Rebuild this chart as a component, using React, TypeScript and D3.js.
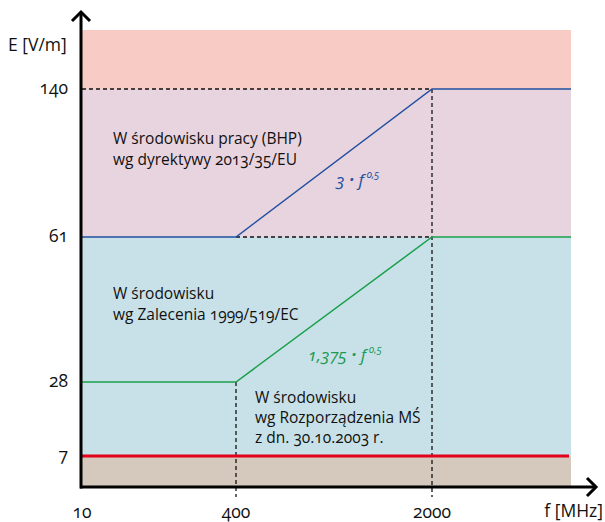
import React from "react";
import * as d3 from "d3";

const freqTicks = [10, 400, 2000];
const fieldTicks = [7, 28, 61, 140];
const freqDomain = [10, 400, 2000, 3000];
const fieldDomain = [0, 7, 28, 61, 140, 175];

const bhpLimit = [
  { f: 10, e: 61 },
  { f: 400, e: 61 },
  { f: 2000, e: 140 },
  { f: 3000, e: 140 },
];
const publicLimit = [
  { f: 10, e: 28 },
  { f: 400, e: 28 },
  { f: 2000, e: 61 },
  { f: 3000, e: 61 },
];
const polandLimit = 7;

const bands = [
  { from: 140, to: 175, color: "#f8cbc5" },
  { from: 61, to: 140, color: "#e8d4df" },
  { from: 7, to: 61, color: "#c8e1e8" },
  { from: 0, to: 7, color: "#d5c9bd" },
];

const FONT = "'Open Sans', 'Noto Sans', sans-serif";

export default function App() {
  const x = d3.scaleLinear().domain(freqDomain).range([82, 236, 432, 571]);
  const y = d3.scaleLinear().domain(fieldDomain).range([487, 456, 382, 237, 89, 30]);
  const line = d3
    .line<{ f: number; e: number }>()
    .x((d) => x(d.f))
    .y((d) => y(d.e));

  const x0 = x(freqDomain[0]);
  const x1 = x(freqDomain[freqDomain.length - 1]);
  const textStyle: React.CSSProperties = {
    fontFamily: FONT,
    fontVariantNumeric: "oldstyle-nums",
    fontFeatureSettings: "'onum'",
  };

  return (
    <svg
      width={605}
      height={522}
      style={{ position: "absolute", left: 0, top: 0, background: "#fff" }}
    >
      {bands.map((b, i) => (
        <rect
          key={i}
          x={x0}
          y={y(b.to)}
          width={x1 - x0}
          height={y(b.from) - y(b.to)}
          fill={b.color}
        />
      ))}
      {/* dashed guides */}
      <g stroke="#111" strokeWidth={1.3} strokeDasharray="4,3" fill="none">
        <line x1={x0} x2={x(2000)} y1={y(140)} y2={y(140)} />
        <line x1={x(400)} x2={x(2000)} y1={y(61)} y2={y(61)} />
        <line x1={x(400)} x2={x(400)} y1={y(28)} y2={y(0) + 10} />
        <line x1={x(2000)} x2={x(2000)} y1={y(140)} y2={y(0) + 10} />
      </g>
      <path d={line(bhpLimit) || ""} fill="none" stroke="#2150a0" strokeWidth={1.5} />
      <path d={line(publicLimit) || ""} fill="none" stroke="#1aa04a" strokeWidth={1.5} />
      <line
        x1={x0}
        x2={x1 - 2}
        y1={y(polandLimit)}
        y2={y(polandLimit)}
        stroke="#e2001a"
        strokeWidth={3}
      />
      {/* axes */}
      <g stroke="#000" strokeWidth={3} fill="none" strokeLinecap="butt">
        <line x1={81} x2={81} y1={y(0) + 1.5} y2={12} />
        <line x1={80} x2={596} y1={y(0)} y2={y(0)} />
        <polyline points="72,21 81,12 90,21" strokeLinejoin="miter" />
        <polyline points="587,478 596,487 587,496" strokeLinejoin="miter" />
      </g>
      {/* tick labels */}
      <g style={textStyle} fontSize={17.5} fill="#111">
        {freqTicks.map((t) => (
          <text key={t} x={x(t)} y={518} textAnchor="middle">
            {t}
          </text>
        ))}
        {fieldTicks.map((t) => (
          <text key={t} x={68} y={y(t) + 5} textAnchor="end">
            {t}
          </text>
        ))}
        <text x={603} y={517} textAnchor="end">f [MHz]</text>
        <text x={8} y={51}>E [V/m]</text>
      </g>
      {/* region labels */}
      <g style={textStyle} fontSize={15.5} fill="#111">
        <text x={113} y={144}>W środowisku pracy (BHP)</text>
        <text x={113} y={165}>wg dyrektywy 2013/35/EU</text>
        <text x={113} y={299}>W środowisku</text>
        <text x={113} y={320}>wg Zalecenia 1999/519/EC</text>
        <text x={255} y={403}>W środowisku</text>
        <text x={255} y={423}>wg Rozporządzenia MŚ</text>
        <text x={255} y={443}>z dn. 30.10.2003 r.</text>
      </g>
      {/* formulas */}
      <g style={textStyle} fontStyle="italic" fontSize={17}>
        <text x={336} y={186} fill="#2150a0">
          3 <tspan fontWeight={700}>·</tspan> f
          <tspan fontSize={10} dy={-8} dx={3}>0,5</tspan>
        </text>
        <text x={308} y={361} fill="#1a9a50">
          1,375 <tspan fontWeight={700}>·</tspan> f
          <tspan fontSize={10} dy={-8} dx={3}>0,5</tspan>
        </text>
      </g>
    </svg>
  );
}
